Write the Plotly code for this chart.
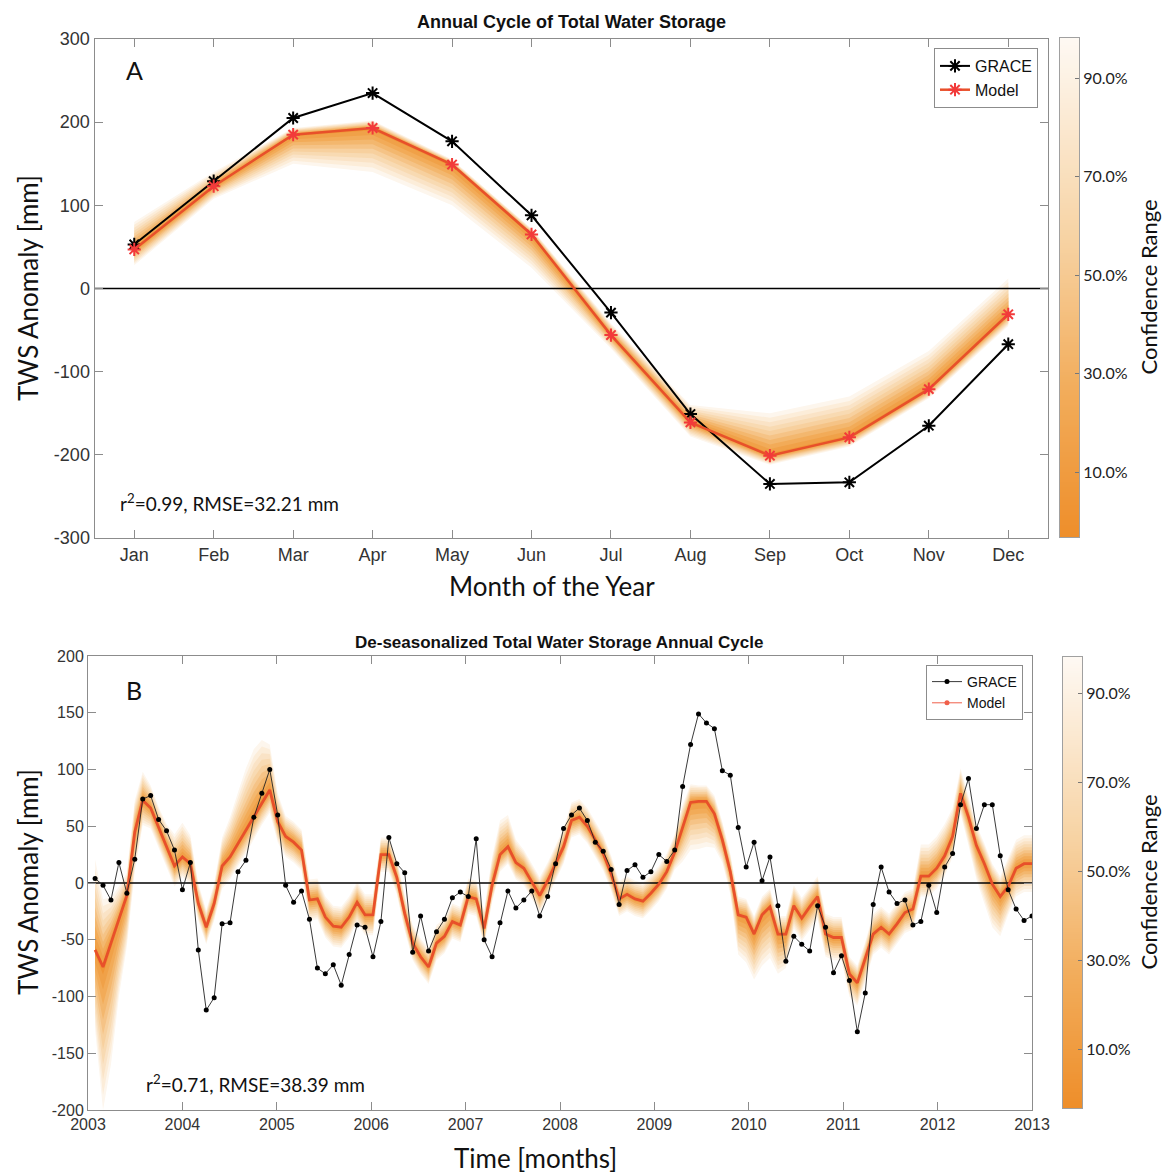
import plotly.graph_objects as go
from plotly.colors import sample_colorscale

# ---------------- data ----------------
months = ['Jan', 'Feb', 'Mar', 'Apr', 'May', 'Jun', 'Jul', 'Aug', 'Sep', 'Oct', 'Nov', 'Dec']
month_idx = list(range(1, 13))
grace_a = [53, 129, 205, 235, 177, 88, -29, -151, -235, -233, -165, -67]
model_a = [47, 123, 185, 193, 149, 65, -56, -161, -201, -179, -121, -31]
band_lo_a = [19, 15, 35, 53, 49, 40, 16, 17, 11, 11, 11, 14]
band_hi_a = [33, 17, 8, 9, 6, 7, 14, 21, 51, 49, 46, 43]

grace_b = [4, -2, -15, 18, -9, 21, 74, 77, 56, 46, 29, -6, 18, -59, -112, -101, -36, -35, 10, 20,
           58, 79, 100, 60, -2, -17, -7, -32, -75, -80, -72, -90, -63, -37, -39, -65, -34, 40, 17, 9,
           -61, -29, -60, -43, -32, -13, -8, -12, 39, -50, -65, -35, -7, -22, -15, -7, -29, -12, 17, 48,
           60, 66, 55, 36, 28, 12, -19, 11, 16, 5, 10, 25, 19, 29, 85, 122, 149, 141, 136, 99,
           95, 49, 14, 36, 2, 23, -20, -69, -47, -54, -60, -20, -39, -79, -64, -86, -131, -97, -19, 14,
           -8, -18, -15, -37, -34, -2, -26, 14, 26, 69, 92, 48, 69, 69, 24, -6, -23, -33, -29]
model_b = [-59, -74, -53, -33, -11, 45, 73, 66, 49, 32, 15, 23, 17, -18, -39, -18, 15, 23, 35, 46,
           58, 71, 82, 54, 41, 36, 29, -15, -14, -30, -38, -39, -30, -17, -28, -28, 25, 25, 5, -27,
           -53, -65, -74, -53, -47, -34, -37, -12, -14, -40, -2, 25, 32, 18, 13, 1, -11, 2, 17, 32,
           55, 58, 50, 38, 26, 8, -14, -10, -14, -16, -9, -1, 10, 27, 49, 71, 72, 72, 61, 38,
           10, -28, -30, -45, -28, -21, -45, -45, -20, -31, -21, -12, -45, -48, -48, -80, -88, -67, -45, -39,
           -45, -36, -26, -23, 6, 6, 13, 24, 41, 79, 58, 33, 17, -1, -12, -3, 13, 17, 17]
band_hi_b = [80, 60, 40, 30, 20, 28, 25, 20, 18, 20, 28, 30, 25, 18, 15, 18, 25, 35, 45, 55,
             60, 55, 40, 25, 18, 18, 18, 18, 18, 18, 18, 18, 18, 18, 18, 18, 15, 15, 16, 16,
             16, 16, 16, 16, 16, 16, 16, 16, 16, 16, 25, 30, 28, 20, 16, 16, 16, 16, 16, 16,
             16, 16, 16, 16, 16, 16, 16, 16, 16, 16, 16, 16, 16, 16, 20, 16, 14, 14, 16, 16,
             16, 16, 16, 16, 16, 16, 16, 16, 18, 18, 18, 18, 18, 18, 18, 15, 15, 15, 18, 18,
             18, 18, 18, 18, 28, 28, 28, 28, 25, 22, 18, 18, 18, 18, 18, 25, 25, 25, 25]
band_lo_b = [70, 126, 107, 67, 45, 35, 22, 18, 18, 18, 18, 18, 18, 15, 15, 15, 20, 20, 20, 20,
             20, 20, 20, 18, 18, 18, 18, 18, 18, 18, 18, 18, 18, 18, 18, 18, 15, 15, 15, 15,
             15, 15, 15, 15, 15, 15, 15, 15, 15, 15, 15, 15, 15, 15, 15, 15, 15, 15, 15, 15,
             15, 15, 15, 15, 15, 15, 15, 15, 15, 15, 15, 15, 15, 15, 30, 42, 42, 40, 30, 20,
             20, 35, 40, 40, 45, 45, 35, 30, 20, 20, 20, 20, 20, 20, 20, 20, 20, 20, 18, 18,
             18, 18, 18, 18, 18, 18, 18, 18, 18, 18, 25, 30, 35, 38, 35, 25, 25, 25, 25]
# time coordinate of the monthly samples (decimal years)
t_start, t_end = 2003.075, 2013.0
n_b = len(grace_b)
time_b = [t_start + i * (t_end - t_start) / (n_b - 1) for i in range(n_b)]

ticks_a = [300, 200, 100, 0, -100, -200, -300]
ticks_b = [200, 150, 100, 50, 0, -50, -100, -150, -200]
years = list(range(2003, 2014))
conf_ticks = [10, 30, 50, 70, 90]
conf_levels = [95, 85, 75, 65, 55, 45, 35, 25, 15, 5]
cmin, cmax = -3.2, 98.2
cscale = [[0.0, '#EE8E2A'], [0.3, '#F2AD5C'], [0.6, '#F7D3A4'], [1.0, '#FEF9F3']]

W, H = 1162, 1174
def px(x): return x / W
def py(y): return 1 - y / H

fig = go.Figure()

def level_color(p):
    return sample_colorscale(cscale, [(p - cmin) / (cmax - cmin)])[0]

def add_band(x, center, lo, hi, xa, ya):
    for p in conf_levels:
        f = p / 95.0
        upper = [c + h * f for c, h in zip(center, hi)]
        lower = [c - l * f for c, l in zip(center, lo)]
        fig.add_trace(go.Scatter(
            x=list(x) + list(x)[::-1], y=upper + lower[::-1], fill='toself',
            fillcolor=level_color(p), mode='lines', line=dict(width=0, color='rgba(0,0,0,0)'),
            hoverinfo='skip', showlegend=False, xaxis=xa, yaxis=ya))

# ---------- Panel A ----------
add_band(month_idx, model_a, band_lo_a, band_hi_a, 'x', 'y')
fig.add_trace(go.Scatter(x=[0.5, 12.5], y=[0, 0], mode='lines', line=dict(color='black', width=1.6),
                         hoverinfo='skip', showlegend=False, xaxis='x', yaxis='y'))
fig.add_trace(go.Scatter(x=month_idx, y=grace_a, mode='lines+markers', name='GRACE',
                         line=dict(color='black', width=2),
                         marker=dict(symbol='asterisk', size=11, line=dict(width=2, color='black')),
                         xaxis='x', yaxis='y', legend='legend'))
fig.add_trace(go.Scatter(x=month_idx, y=model_a, mode='lines+markers', name='Model',
                         line=dict(color='#E8502A', width=2.5),
                         marker=dict(symbol='asterisk', size=11, line=dict(width=2, color='#F23A3A')),
                         xaxis='x', yaxis='y', legend='legend'))

# ---------- Panel B ----------
add_band(time_b, model_b, band_lo_b, band_hi_b, 'x2', 'y2')
fig.add_trace(go.Scatter(x=[2003, 2013], y=[0, 0], mode='lines', line=dict(color='black', width=1.6),
                         hoverinfo='skip', showlegend=False, xaxis='x2', yaxis='y2'))
fig.add_trace(go.Scatter(x=time_b, y=model_b, mode='lines', name='Model',
                         line=dict(color='#E8502A', width=2.8),
                         xaxis='x2', yaxis='y2', showlegend=False))
fig.add_trace(go.Scatter(x=time_b, y=grace_b, mode='lines+markers', name='GRACE',
                         line=dict(color='#222222', width=0.9),
                         marker=dict(symbol='circle', size=5, color='black'),
                         xaxis='x2', yaxis='y2', legend='legend2'))
fig.add_trace(go.Scatter(x=[None], y=[None], mode='lines+markers', name='Model',
                         line=dict(color='#F0604A', width=1),
                         marker=dict(symbol='circle', size=5, color='#F0604A'),
                         xaxis='x2', yaxis='y2', legend='legend2'))

# ---------- colorbars drawn as heatmap strips in their own axes ----------
n_steps = 200
cb_vals = [cmin + (cmax - cmin) * (i + 0.5) / n_steps for i in range(n_steps)]
for xa, ya in [('x3', 'y3'), ('x4', 'y4')]:
    fig.add_trace(go.Heatmap(x=[0], y=cb_vals, z=[[v] for v in cb_vals], colorscale=cscale,
                             zmin=cmin, zmax=cmax, showscale=False, hoverinfo='skip',
                             xaxis=xa, yaxis=ya))

axis_common = dict(showline=True, linecolor='#8c8c8c', linewidth=1, mirror='ticks',
                   ticks='inside', ticklen=8, tickcolor='#8c8c8c', showgrid=False, zeroline=False,
                   automargin=False)
cb_x = dict(range=[-0.5, 0.5], showticklabels=False, ticks='', showline=True, mirror=True,
            linecolor='#a0a0a0', linewidth=1, showgrid=False, zeroline=False, automargin=False)
cb_y = dict(range=[cmin, cmax], side='right', tickvals=conf_ticks,
            ticktext=[f'{v:.1f}%' for v in conf_ticks], ticks='inside', ticklen=4,
            tickcolor='#777777', showline=True, mirror=True, linecolor='#a0a0a0', linewidth=1,
            showgrid=False, zeroline=False, automargin=False,
            tickfont=dict(family='Lato', size=16, color='#222222'))

fig.update_layout(
    template='none',
    width=W, height=H, margin=dict(l=0, r=0, t=0, b=0, autoexpand=False),
    paper_bgcolor='white', plot_bgcolor='white',
    xaxis=dict(domain=[px(94.5), px(1048)], anchor='y', range=[0.5, 12.5],
               tickvals=month_idx, ticktext=months,
               tickfont=dict(family='Liberation Sans', size=18, color='#333333'), **axis_common),
    yaxis=dict(domain=[py(538), py(39)], anchor='x', range=[-300, 300],
               tickvals=ticks_a, ticktext=[str(v) for v in ticks_a],
               tickfont=dict(family='Liberation Sans', size=18, color='#333333'), **axis_common),
    xaxis2=dict(domain=[px(88), px(1032)], anchor='y2', range=[2003, 2013],
                tickvals=years, ticktext=[str(v) for v in years],
                tickfont=dict(family='Liberation Sans', size=16, color='#333333'), **axis_common),
    yaxis2=dict(domain=[py(1110), py(656)], anchor='x2', range=[-200, 200],
                tickvals=ticks_b, ticktext=[str(v) for v in ticks_b],
                tickfont=dict(family='Liberation Sans', size=16, color='#333333'), **axis_common),
    xaxis3=dict(domain=[px(1060), px(1079)], anchor='y3', **cb_x),
    yaxis3=dict(domain=[py(537), py(38)], anchor='x3', **cb_y),
    xaxis4=dict(domain=[px(1063), px(1082)], anchor='y4', **cb_x),
    yaxis4=dict(domain=[py(1108), py(657)], anchor='x4', **cb_y),
    legend=dict(x=px(1038), y=py(48), xanchor='right', yanchor='top', bgcolor='white',
                bordercolor='#8c8c8c', borderwidth=1,
                font=dict(family='Liberation Sans', size=16, color='#111111'),
                itemwidth=30, tracegroupgap=0),
    legend2=dict(x=px(1023), y=py(665), xanchor='right', yanchor='top', bgcolor='white',
                 bordercolor='#8c8c8c', borderwidth=1,
                 font=dict(family='Liberation Sans', size=14, color='#111111'),
                 itemwidth=30, tracegroupgap=0),
    showlegend=True,
)

ann = []
def add_text(x, y, text, size, family='Lato', xanchor='center', angle=0, color='#111111', bold=False):
    ann.append(dict(x=px(x), y=py(y), xref='paper', yref='paper', text=(f'<b>{text}</b>' if bold else text),
                    showarrow=False, xanchor=xanchor, yanchor='middle', textangle=angle,
                    font=dict(family=family, size=size, color=color)))

add_text(571, 22, 'Annual Cycle of Total Water Storage', 18, family='Liberation Sans', bold=True)
add_text(559, 642, 'De-seasonalized Total Water Storage Annual Cycle', 17, family='Liberation Sans', bold=True)
add_text(124, 70, 'A', 25, xanchor='left')
add_text(124, 690, 'B', 25, xanchor='left')
add_text(118, 502, 'r<sup>2</sup>=0.99, RMSE=32.21 mm', 19, xanchor='left')
add_text(144, 1083, 'r<sup>2</sup>=0.71, RMSE=38.39 mm', 19, xanchor='left')
add_text(28, 288, 'TWS Anomaly [mm]', 26, angle=-90)
add_text(28, 882, 'TWS Anomaly [mm]', 26, angle=-90)
add_text(552, 586, 'Month of the Year', 26)
add_text(535, 1158, 'Time [months]', 26)
add_text(1148, 287.5, 'Confidence Range', 22, angle=-90)
add_text(1148, 882.5, 'Confidence Range', 22, angle=-90)
fig.update_layout(annotations=ann)

fig.write_html('out.html', config={'displayModeBar': False},
               post_script="document.body.style.margin='0';document.body.style.overflow='hidden';")
